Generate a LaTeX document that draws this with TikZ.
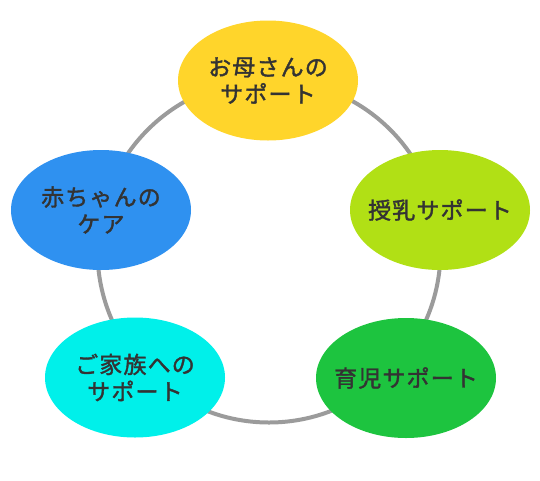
\documentclass[tikz,border=0pt]{standalone}
\usepackage{fontspec}
\setmainfont{Noto Sans CJK JP}[FakeBold=1.6,LetterSpace=5]
\usetikzlibrary{shapes.geometric}
\definecolor{cyellow}{HTML}{FFD52B}
\definecolor{clime}{HTML}{B1E015}
\definecolor{cgreen}{HTML}{1DC43F}
\definecolor{ccyan}{HTML}{00F0EA}
\definecolor{cblue}{HTML}{2F91F0}
\definecolor{cring}{HTML}{9B9B9B}
\definecolor{ctext}{HTML}{333333}
\tikzset{
  bubble/.style={ellipse, minimum width=180pt, minimum height=120pt, inner sep=-30pt,
    draw=none, text=ctext, align=center, font=\fontsize{23}{27}\selectfont},
  ring/.style={draw=cring, line width=4pt}
}
\begin{document}
\begin{tikzpicture}[x=1pt,y=-1pt]
\useasboundingbox (0,0) rectangle (540,480);
\coordinate (c) at (269,251);
\draw[ring] (c) circle[radius=171.5];
\node[bubble, fill=cyellow] (a) at (268,80.5) {お母さんの\\サポート};
\node[bubble, fill=clime] (b) at (440,210) {授乳サポート};
\node[bubble, fill=cgreen] (d) at (406,378) {育児サポート};
\node[bubble, fill=ccyan] (e) at (135,377.5) {ご家族への\\サポート};
\node[bubble, fill=cblue] (f) at (101,210) {赤ちゃんの\\ケア};
\end{tikzpicture}
\end{document}
